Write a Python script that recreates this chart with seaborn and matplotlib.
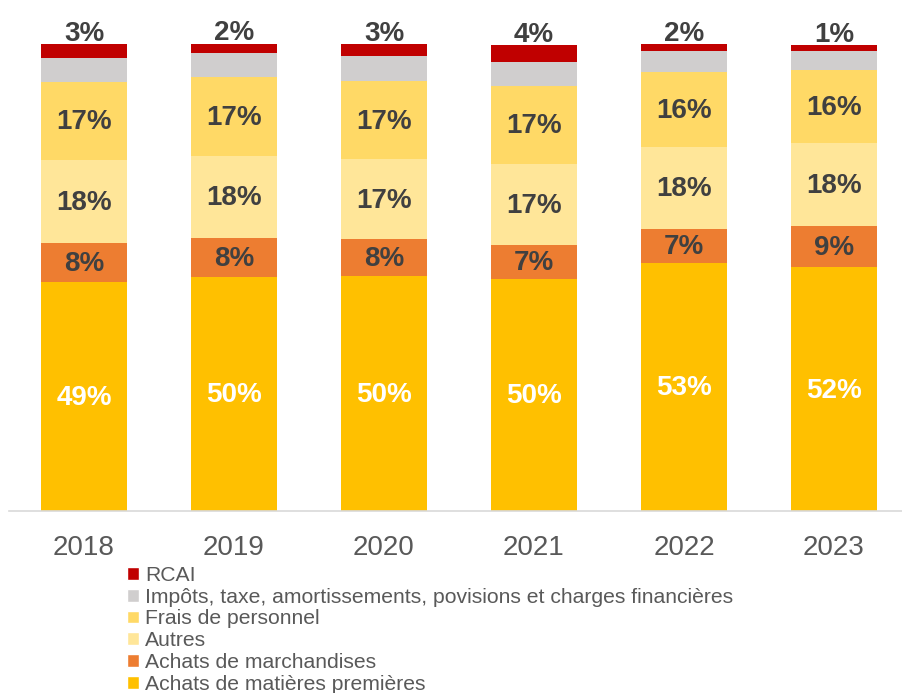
import numpy as np
import pandas as pd
import matplotlib.pyplot as plt
import seaborn as sns
from matplotlib.patches import Patch

# Data (share of total, %)
years = ['2018', '2019', '2020', '2021', '2022', '2023']
matieres = [49.0, 50.2, 50.3, 49.7, 53.2, 52.2]
marchandises = [8.4, 8.3, 7.9, 7.3, 7.2, 8.8]
autres = [17.8, 17.6, 17.1, 17.4, 17.6, 17.7]
frais = [16.7, 16.8, 16.7, 16.7, 16.1, 15.8]
impots = [5.1, 5.1, 5.4, 5.1, 4.3, 4.1]
rcai = [3.0, 2.2, 2.6, 3.6, 1.6, 1.2]

labels = ['Achats de matières premières', 'Achats de marchandises', 'Autres',
          'Frais de personnel',
          'Impôts, taxe, amortissements, povisions et charges financières', 'RCAI']
colors = ['#FFC000', '#ED7D31', '#FFE699', '#FFD966', '#D0CECE', '#C00000']
series = [matieres, marchandises, autres, frais, impots, rcai]
show_label = [True, True, True, True, False, True]

df = pd.DataFrame(dict(zip(labels, series)), index=years)
cum = df.cumsum(axis=1)

sns.set_style('white')
plt.rcParams['font.family'] = ['Liberation Sans', 'DejaVu Sans']

fig = plt.figure(figsize=(9.03, 6.93), dpi=100)
ax = fig.add_axes([9 / 903, 182 / 693, 894 / 903, 467 / 693])

# stacked bars: draw cumulative totals from top layer down
for lab, col in reversed(list(zip(labels, colors))):
    sns.barplot(x=years, y=cum[lab].values, color=col, width=0.57,
                saturation=1, linewidth=0, ax=ax)

# value labels
for i, yr in enumerate(years):
    base = 0
    for j, lab in enumerate(labels):
        v = df.loc[yr, lab]
        if show_label[j]:
            if lab == 'RCAI':
                ax.text(i, base + v + 2.2, f'{v:.0f}%', ha='center', va='center',
                        fontsize=20, fontweight='bold', color='#404040', clip_on=False)
            else:
                c = 'white' if j == 0 else '#404040'
                ax.text(i, base + v / 2 - 0.3, f'{v:.0f}%', ha='center', va='center',
                        fontsize=20, fontweight='bold', color=c)
        base += v

ax.set_ylim(0, 100)
ax.set_xlim(-0.5, 5.46)
ax.set_yticks([])
ax.set_ylabel('')
sns.despine(ax=ax, left=True)
ax.spines['bottom'].set_color('#D9D9D9')
ax.spines['bottom'].set_linewidth(1.2)
ax.tick_params(axis='x', length=0, labelsize=20, labelcolor='#595959', pad=17)

handles = [Patch(facecolor=c, label=l) for l, c in zip(labels, colors)][::-1]
fig.legend(handles=handles, loc='upper left', bbox_to_anchor=(127 / 903, 1 - 566 / 693),
           frameon=False, fontsize=15.2, labelcolor='#595959', handlelength=0.55,
           handleheight=0.55, handletextpad=0.3, labelspacing=0.13, borderpad=0,
           borderaxespad=0)

fig.savefig('out.png', dpi=100)
